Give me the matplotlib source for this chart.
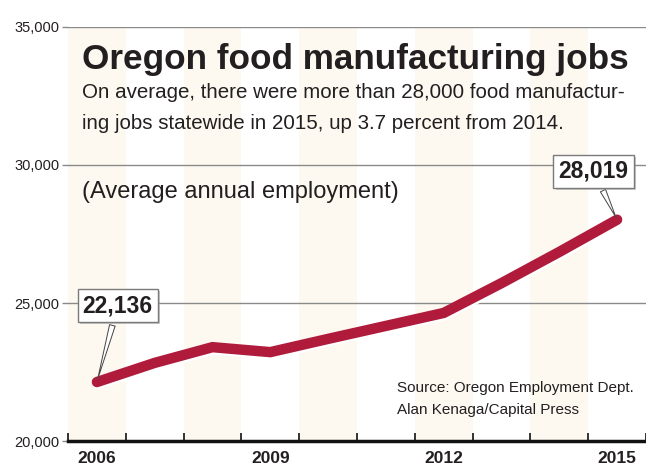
import matplotlib
matplotlib.use("Agg")
import matplotlib.pyplot as plt
import matplotlib.patheffects as pe

years = [2006, 2007, 2008, 2009, 2010, 2011, 2012, 2013, 2014, 2015]
jobs = [22136, 22830, 23400, 23220, 23700, 24170, 24640, 25720, 26850, 28019]
year_labels = [2006, 2009, 2012, 2015]
y_ticks = [20000, 25000, 30000, 35000]

title = "Oregon food manufacturing jobs"
subtitle1 = "On average, there were more than 28,000 food manufactur-"
subtitle2 = "ing jobs statewide in 2015, up 3.7 percent from 2014."
unit_note = "(Average annual employment)"
source = "Source: Oregon Employment Dept.\nAlan Kenaga/Capital Press"

FONT = ['Liberation Sans Narrow', 'Liberation Sans', 'DejaVu Sans']
plt.rcParams['font.family'] = FONT
TXT = '#231f20'
RED = '#b01a3b'
BAND = '#fdf8f0'

fig = plt.figure(figsize=(6.46, 4.69), dpi=100)
ax = fig.add_axes([68/646, 28/469, 1 - 68/646, (441-27)/469])

# alternating year bands
for i, y in enumerate(years):
    if i % 2 == 0:
        ax.axvspan(y - 0.5, y + 0.5, color=BAND, lw=0, zorder=0)

ax.set_xlim(years[0] - 0.5, years[-1] + 0.5)
ax.set_ylim(y_ticks[0], y_ticks[-1])

for yt in y_ticks[1:]:
    ax.axhline(yt, color='#8a8a8a', lw=1.0, zorder=1)

ax.plot(years, jobs, color=RED, lw=7.5, solid_capstyle='round', solid_joinstyle='miter',
        zorder=3,
        path_effects=[pe.Stroke(linewidth=9, foreground='white', offset=(0.6, -0.8)), pe.Normal()])

for s in ['top', 'right', 'left']:
    ax.spines[s].set_visible(False)
ax.spines['bottom'].set_linewidth(2.5)
ax.spines['bottom'].set_color('#111111')
ax.spines['bottom'].set_zorder(5)

ax.set_xticks(year_labels)
ax.set_xticklabels([str(y) for y in year_labels], fontsize=12.5, fontweight='bold', color=TXT)
ax.set_xticks([y - 0.5 for y in years] + [years[-1] + 0.5], minor=True)
ax.tick_params(axis='x', which='major', length=0, pad=7)
ax.tick_params(axis='x', which='minor', direction='in', length=6, width=1.2, color='#111111')

ax.set_yticks(y_ticks)
ax.set_yticklabels([f"{v:,}" for v in y_ticks], fontsize=10.5, color=TXT)
ax.tick_params(axis='y', length=4, width=1, color='#8a8a8a', pad=2)

# callouts
box = dict(boxstyle='square,pad=0.22', fc='white', ec='#7a7a7a', lw=1)
arrow = dict(arrowstyle='wedge,tail_width=0.25,shrink_factor=0.5', fc='white', ec='#444444', lw=0.7)
anns = []
anns.append(ax.annotate(f"{jobs[0]:,}", xy=(years[0], jobs[0]), xytext=(15, 55), textcoords='offset points',
            ha='center', va='center', fontsize=16.5, fontweight='bold', color=TXT,
            bbox=box, arrowprops=arrow, zorder=6))
anns.append(ax.annotate(f"{jobs[-1]:,}", xy=(years[-1], jobs[-1]), xytext=(-17, 35), textcoords='offset points',
            ha='center', va='center', fontsize=16.5, fontweight='bold', color=TXT,
            bbox=box, arrowprops=arrow, zorder=6))
for a in anns:
    a.get_bbox_patch().set_path_effects([pe.SimplePatchShadow(offset=(1.5, -1.5), shadow_rgbFace='#999999', alpha=0.5), pe.Normal()])

# texts
fig.text(82/646, 1 - 60/469, title, fontsize=25.3, fontweight='bold', color=TXT, va='center', ha='left')
fig.text(82/646, 1 - 93/469, subtitle1, fontsize=14.8, color=TXT, va='center', ha='left')
fig.text(82/646, 1 - 123/469, subtitle2, fontsize=14.8, color=TXT, va='center', ha='left')
fig.text(82/646, 1 - 192/469, unit_note, fontsize=17, color=TXT, va='center', ha='left')
fig.text(397/646, 1 - 399/469, source, fontsize=11, color=TXT, va='center', ha='left', linespacing=1.7)

fig.savefig('out.png', dpi=100)
